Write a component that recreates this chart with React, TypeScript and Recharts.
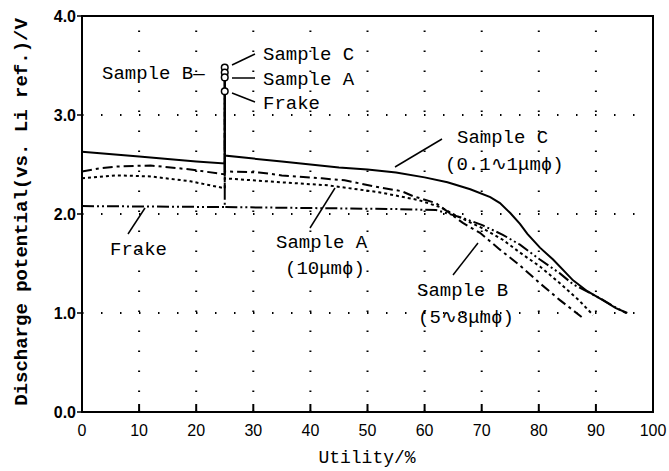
import React from 'react';
import {
  ComposedChart, Line, Scatter, XAxis, YAxis, ReferenceLine, ReferenceArea, Customized,
} from 'recharts';

// Utility (%) vs discharge potential (V); each series jumps to its rest potential at 25 %
const sampleC: [number, number][] = [
  [0, 2.63], [10, 2.58], [20, 2.53], [25, 2.51], [25, 3.48], [25, 2.59], [35, 2.53], [45, 2.47],
  [50, 2.45], [55, 2.42], [60, 2.37], [64, 2.32], [68, 2.25], [71.5, 2.17], [73.2, 2.11],
  [75, 2.01], [76.7, 1.9], [78, 1.8], [80.2, 1.66], [82.5, 1.54], [86, 1.33], [88.5, 1.22],
  [91.2, 1.13], [93.5, 1.05], [95.5, 1.0],
];
const sampleB: [number, number][] = [
  [0, 2.43], [3, 2.46], [6, 2.48], [12, 2.49], [19, 2.45], [25, 2.4], [25, 3.43], [25, 2.43],
  [31, 2.42], [35, 2.39], [42, 2.36], [46, 2.34], [52, 2.27], [56, 2.23], [58, 2.18], [62, 2.11],
  [66.7, 1.91], [69.7, 1.81], [73.2, 1.64], [76.7, 1.48], [80.2, 1.3], [83.7, 1.13], [87.5, 0.96],
];
const sampleA: [number, number][] = [
  [0, 2.36], [6, 2.39], [12, 2.38], [19, 2.33], [25, 2.26], [25, 3.38], [25, 2.36], [35, 2.32],
  [43, 2.29], [52, 2.22], [59, 2.14], [62.7, 2.07], [66, 1.97], [70, 1.86], [73.7, 1.74],
  [76.7, 1.61], [80.2, 1.47], [83.7, 1.3], [87, 1.13], [89.5, 0.98],
];
const frake: [number, number][] = [
  [0, 2.08], [25, 2.07], [25, 3.24], [25, 2.07], [40, 2.06], [55, 2.05], [62, 2.04], [66.7, 1.96],
  [70, 1.89], [73.7, 1.79], [76.7, 1.69], [80.2, 1.54], [83.7, 1.4], [86, 1.29], [89, 1.2],
  [91, 1.14], [93, 1.07], [95.3, 1.0],
];

const restUtility = 25;
const restNames = ['Sample C', 'Sample B', 'Sample A', 'Frake'];
const restValues = [3.48, 3.43, 3.38, 3.24];

const xTicks = [0, 10, 20, 30, 40, 50, 60, 70, 80, 90, 100];
const yTicks = [0, 1, 2, 3, 4];
const xGrid = [10, 20, 30, 40, 50, 60, 70, 80, 90];
const yGrid = [1, 2, 3];

const toPts = (a: [number, number][]) => a.map(([x, y]) => ({ x, y }));
const restPts = restValues.map((y, i) => ({ x: restUtility, y, name: restNames[i] }));

const MONO = '"Liberation Mono", "DejaVu Sans Mono", monospace';
const SANS = '"Liberation Sans", Arial, sans-serif';

const RestDot = (p: any) => (
  <circle cx={p.cx} cy={p.cy} r={3.3} fill="#fff" stroke="#000" strokeWidth={1.5} />
);

const Annotations = () => {
  const t = { fontFamily: MONO, fontSize: 19, fill: '#000' } as const;
  const ln = { stroke: '#000', strokeWidth: 1.5 } as const;
  return (
    <g>
      <text x={102} y={79} {...t}>Sample B—</text>
      <path d="M 232 65 L 255 54" {...ln} fill="none" />
      <text x={263} y={60} {...t}>Sample C</text>
      <path d="M 232 78 L 255 78" {...ln} fill="none" />
      <text x={263} y={85} {...t}>Sample A</text>
      <path d="M 232 93 L 255 102" {...ln} fill="none" />
      <text x={263} y={109} {...t}>Frake</text>

      <path d="M 395 167 L 442 139" {...ln} fill="none" />
      <text x={457} y={143} {...t}>Sample C</text>
      <text x={445} y={170} {...t}>(0.1∿1μmϕ)</text>

      <path d="M 310 228 L 335 188" {...ln} fill="none" />
      <text x={276} y={248} {...t}>Sample A</text>
      <text x={285} y={274} {...t}>(10μmϕ)</text>

      <path d="M 128 234 L 145 208" {...ln} fill="none" />
      <text x={110} y={255} {...t}>Frake</text>

      <path d="M 453 275 L 478 243" {...ln} fill="none" />
      <text x={417} y={296} {...t}>Sample B</text>
      <text x={418} y={323} {...t}>(5∿8μmϕ)</text>

      <text x={367} y={463} textAnchor="middle" fontFamily={MONO} fontSize={18} fill="#000">Utility/%</text>
      <text
        x={0}
        y={0}
        transform="translate(27,212) rotate(-90)"
        textAnchor="middle"
        fontFamily={MONO}
        fontSize={19}
        fontWeight="bold"
        fill="#000"
      >
        Discharge potential(vs. Li ref.)/V
      </text>
    </g>
  );
};

export default function App() {
  return (
    <div style={{ position: 'absolute', left: 0, top: 0, width: 669, height: 471, background: '#fff' }}>
      <ComposedChart width={669} height={471} margin={{ top: 16, right: 16, bottom: 19, left: 22 }}>
        <XAxis
          type="number"
          dataKey="x"
          domain={[0, 100]}
          ticks={xTicks}
          interval={0}
          height={40}
          axisLine={{ stroke: '#000', strokeWidth: 2 }}
          tickLine={{ stroke: '#000', strokeWidth: 2 }}
          tickSize={-8}
          tickMargin={21}
          tick={{ fontFamily: SANS, fontSize: 16, fill: '#000' }}
        />
        <YAxis
          type="number"
          dataKey="y"
          domain={[0, 4]}
          ticks={yTicks}
          interval={0}
          width={60}
          axisLine={{ stroke: '#000', strokeWidth: 2 }}
          tickLine={{ stroke: '#000', strokeWidth: 1.5 }}
          tickSize={5}
          tickMargin={1}
          tickFormatter={(v: number) => v.toFixed(1)}
          tick={{ fontFamily: SANS, fontSize: 16, fontWeight: 'bold', fill: '#000' }}
        />
        {xGrid.map((v) => (
          <ReferenceLine key={'gx' + v} x={v} stroke="#000" strokeWidth={2} strokeDasharray="1.5 18.5" />
        ))}
        {yGrid.map((v) => (
          <ReferenceLine key={'gy' + v} y={v} stroke="#000" strokeWidth={2} strokeDasharray="1.5 17.5" />
        ))}
        <ReferenceArea x1={0} x2={100} y1={0} y2={4} fill="none" stroke="#000" strokeWidth={2} />
        <Line data={toPts(frake)} dataKey="y" type="linear" stroke="#000" strokeWidth={2}
          strokeDasharray="12 3 2 3 2 3" dot={false} activeDot={false} isAnimationActive={false} />
        <Line data={toPts(sampleA)} dataKey="y" type="linear" stroke="#000" strokeWidth={2}
          strokeDasharray="3 3" dot={false} activeDot={false} isAnimationActive={false} />
        <Line data={toPts(sampleB)} dataKey="y" type="linear" stroke="#000" strokeWidth={2}
          strokeDasharray="10 4 3 4" dot={false} activeDot={false} isAnimationActive={false} />
        <Line data={toPts(sampleC)} dataKey="y" type="linear" stroke="#000" strokeWidth={2}
          dot={false} activeDot={false} isAnimationActive={false} />
        <Scatter data={restPts} dataKey="y" shape={RestDot} isAnimationActive={false} />
        <Customized component={Annotations} />
      </ComposedChart>
    </div>
  );
}
